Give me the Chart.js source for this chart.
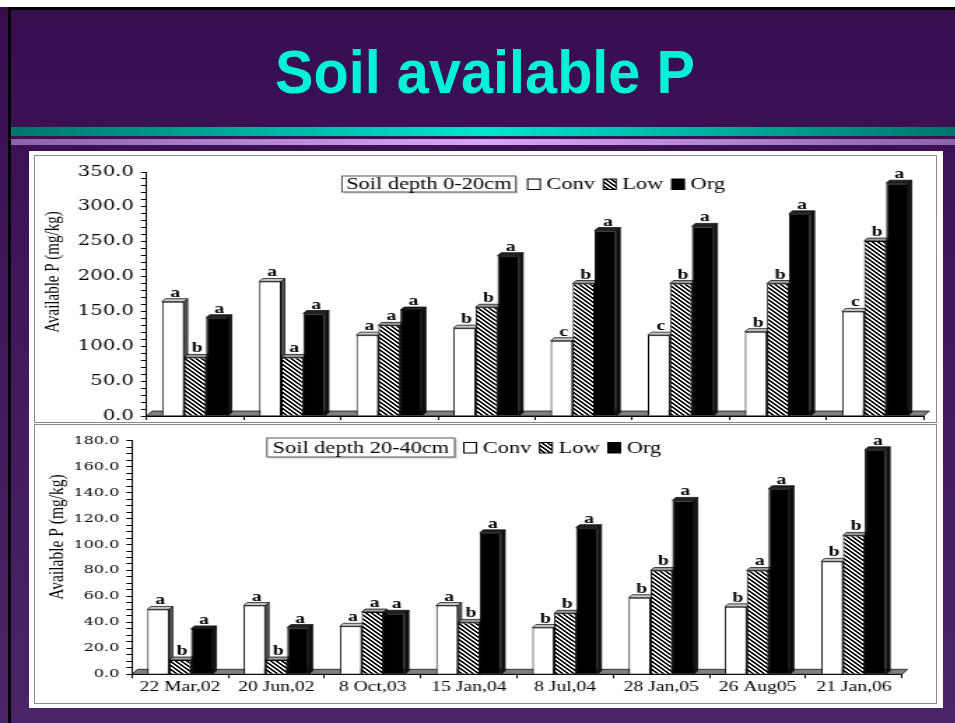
<!DOCTYPE html>
<html>
<head>
<meta charset="utf-8">
<script src="https://cdn.jsdelivr.net/npm/chart.js@4.4.1/dist/chart.umd.min.js"></script>
<style>
  html, body { margin: 0; padding: 0; }
  body { width: 955px; height: 723px; position: relative; overflow: hidden;
         background: linear-gradient(#360d4d, #3f175a 40%, #4b2468); }
  .abs { position: absolute; }
  #whiteTop { left: 0; top: 0; width: 955px; height: 7px; background: #fff; }
  #blackTop { left: 8px; top: 7px; width: 947px; height: 3px; background: #000; }
  #blackLeft { left: 8px; top: 7px; width: 3px; height: 716px; background: #000; }
  #title { left: 0; top: 36px; width: 970px; text-align: center; color: #00f0da;
           font: bold 62px "Liberation Sans", Arial, sans-serif; transform: scaleX(0.93);
           transform-origin: 485px 0; }
  #cyanBand { left: 11px; top: 127px; width: 944px; height: 9px;
              background: linear-gradient(to right, #00756a, #00e6d0 50%, #00756a); }
  #lavBand { left: 11px; top: 139px; width: 944px; height: 6px;
             background: linear-gradient(to right, #8c62a8, #d8a8f8 50%, #8c62a8); }
  #panel { left: 29px; top: 151px; width: 914px; height: 557px; background: #fff; }
  .box { position: absolute; left: 34px; border: 1px solid #8a8a8a; background: #fff; }
  #boxTop { top: 155px; width: 901px; height: 266px; }
  #boxBottom { top: 424px; width: 901px; height: 278px; }
</style>
</head>
<body>
<div id="whiteTop" class="abs"></div>
<div id="blackTop" class="abs"></div>
<div id="blackLeft" class="abs"></div>
<div id="title" class="abs">Soil available P</div>
<div id="cyanBand" class="abs"></div>
<div id="lavBand" class="abs"></div>
<div id="panel" class="abs"></div>
<div id="boxTop" class="box"><canvas id="chartTop" width="644" height="266" style="width:901px;height:266px"></canvas></div>
<div id="boxBottom" class="box"><canvas id="chartBottom" width="644" height="278" style="width:901px;height:278px"></canvas></div>
<script>
const dates = ['22 Mar,02', '20 Jun,02', '8 Oct,03', '15 Jan,04', '8 Jul,04', '28 Jan,05', '26 Aug05', '21 Jan,06'];
const seriesNames = ['Conv', 'Low', 'Org'];

// 0-20cm
const topConv = [164, 193, 116, 126, 108, 116, 121, 150];
const topLow = [84, 84, 130, 156, 190, 190, 190, 251];
const topOrg = [141, 147, 152, 230, 266, 272, 290, 334];
const topConvLetters = ['a', 'a', 'a', 'b', 'c', 'c', 'b', 'c'];
const topLowLetters = ['b', 'a', 'a', 'b', 'b', 'b', 'b', 'b'];
const topOrgLetters = ['a', 'a', 'a', 'a', 'a', 'a', 'a', 'a'];

// 20-40cm
const botConv = [50, 53, 37, 53, 36, 59, 52, 87];
const botLow = [11, 11, 48, 40, 47, 80, 80, 107];
const botOrg = [35, 36, 47, 109, 113, 134, 143, 173];
const botConvLetters = ['a', 'a', 'a', 'a', 'b', 'b', 'b', 'b'];
const botLowLetters = ['b', 'b', 'a', 'b', 'b', 'b', 'a', 'b'];
const botOrgLetters = ['a', 'a', 'a', 'a', 'a', 'a', 'a', 'a'];

const SERIF = '"Liberation Serif", "Times New Roman", serif';
const DX = 2.5, DY = 3;

function makeHatch() {
  const c = document.createElement('canvas');
  c.width = 4; c.height = 4;
  const g = c.getContext('2d');
  const img = g.createImageData(4, 4);
  for (let y = 0; y < 4; y++) {
    for (let x = 0; x < 4; x++) {
      const i = (y * 4 + x) * 4;
      const v = ((x - y + 8) % 4) < 2 ? 0 : 255;
      img.data[i] = v; img.data[i + 1] = v; img.data[i + 2] = v; img.data[i + 3] = 255;
    }
  }
  g.putImageData(img, 0, 0);
  return g.createPattern(c, 'repeat');
}
const hatch = makeHatch();

function poly(ctx, pts) {
  ctx.beginPath();
  ctx.moveTo(pts[0][0], pts[0][1]);
  for (let i = 1; i < pts.length; i++) ctx.lineTo(pts[i][0], pts[i][1]);
  ctx.closePath();
  ctx.fill();
  ctx.stroke();
}

// floor + top/side faces of the columns
const depthPlugin = {
  id: 'depth',
  beforeDatasetsDraw(chart) {
    const { ctx, chartArea } = chart;
    const b = chartArea.bottom;
    ctx.save();
    ctx.strokeStyle = '#000';
    ctx.lineWidth = 0.7;
    ctx.fillStyle = '#808080';
    poly(ctx, [[chartArea.left, b], [chartArea.left + 4, b - 5], [chartArea.right + 4, b - 5], [chartArea.right, b]]);
    chart.data.datasets.forEach((ds, i) => {
      chart.getDatasetMeta(i).data.forEach(bar => {
        const { x, y, width, base } = bar.getProps(['x', 'y', 'width', 'base'], true);
        const l = x - width / 2, r = x + width / 2;
        ctx.fillStyle = ds.sideColor;
        poly(ctx, [[r, y], [r + DX, y - DY], [r + DX, base - DY], [r, base]]);
        ctx.fillStyle = ds.topColor;
        poly(ctx, [[l, y], [l + DX, y - DY], [r + DX, y - DY], [r, y]]);
      });
    });
    ctx.restore();
  }
};

const letterPlugin = {
  id: 'letters',
  afterDatasetsDraw(chart) {
    const ctx = chart.ctx;
    ctx.save();
    ctx.font = 'bold 14px ' + SERIF;
    ctx.fillStyle = '#000';
    ctx.textAlign = 'center';
    ctx.textBaseline = 'alphabetic';
    chart.data.datasets.forEach((ds, i) => {
      chart.getDatasetMeta(i).data.forEach((bar, j) => {
        ctx.fillText(ds.letters[j], bar.x + DX * 0.6, bar.y - DY - 2);
      });
    });
    ctx.restore();
  }
};

// y title drawn by hand, it sits above the middle of the axis in the original
const yTitlePlugin = {
  id: 'yTitle',
  afterDraw(chart, args, opts) {
    const ctx = chart.ctx;
    ctx.save();
    ctx.translate(opts.x, opts.y);
    ctx.rotate(-Math.PI / 2);
    ctx.font = opts.size + 'px ' + SERIF;
    ctx.fillStyle = '#000';
    ctx.textAlign = 'center';
    ctx.textBaseline = 'middle';
    ctx.fillText(opts.text, 0, 0);
    ctx.restore();
  }
};

const boxLegendPlugin = {
  id: 'boxLegend',
  afterDraw(chart, args, opts) {
    const ctx = chart.ctx;
    ctx.save();
    ctx.font = '16px ' + SERIF;
    ctx.textBaseline = 'middle';
    const tw = ctx.measureText(opts.text).width;
    const w = tw + opts.pad * 2;
    const cy = opts.y + opts.h / 2;
    ctx.fillStyle = '#d0d0d0';
    ctx.fillRect(opts.x + 1.5, opts.y + 1.5, w, opts.h);
    ctx.fillStyle = '#fff';
    ctx.fillRect(opts.x, opts.y, w, opts.h);
    ctx.strokeStyle = '#555';
    ctx.lineWidth = 1;
    ctx.strokeRect(opts.x, opts.y, w, opts.h);
    ctx.fillStyle = '#000';
    ctx.fillText(opts.text, opts.x + opts.pad, cy + 1);
    let x = opts.x + w + opts.gap;
    chart.data.datasets.forEach(ds => {
      ctx.fillStyle = ds.backgroundColor;
      ctx.strokeStyle = '#000';
      ctx.fillRect(x, cy - 5, 9, 10.5);
      ctx.strokeRect(x, cy - 5, 9, 10.5);
      x += 9 + 4.5;
      ctx.fillStyle = '#000';
      ctx.fillText(ds.label, x, cy + 1);
      x += ctx.measureText(ds.label).width + 6;
    });
    ctx.restore();
  }
};

function makeDatasets(conv, low, org, lc, ll, lo) {
  return [
    { label: seriesNames[0], data: conv, letters: lc, backgroundColor: '#fff', borderColor: '#000',
      borderWidth: 1, topColor: '#c4c4c4', sideColor: '#5a5a5a' },
    { label: seriesNames[1], data: low, letters: ll, backgroundColor: hatch, borderColor: '#000',
      borderWidth: 1, topColor: '#9a9a9a', sideColor: '#3a3a3a' },
    { label: seriesNames[2], data: org, letters: lo, backgroundColor: '#000', borderColor: '#000',
      borderWidth: 1, topColor: '#222', sideColor: '#111' }
  ];
}

function makeChart(id, cfg) {
  return new Chart(document.getElementById(id), {
    type: 'bar',
    data: { labels: dates, datasets: cfg.datasets },
    options: {
      responsive: false,
      devicePixelRatio: 1,
      animation: false,
      events: [],
      layout: { padding: { top: cfg.padTop, right: cfg.padRight, left: 0, bottom: 0 } },
      datasets: { bar: { categoryPercentage: 0.68, barPercentage: 1 } },
      scales: {
        x: {
          afterFit: s => { s.height = cfg.xHeight; s.paddingLeft = 0; s.paddingRight = 0; },
          grid: { drawOnChartArea: false, tickLength: 4, color: '#000', offset: true },
          border: { color: '#000', width: 1 },
          ticks: { display: cfg.showDates, color: '#000', padding: 1, maxRotation: 0, autoSkip: false,
                   font: { family: SERIF, size: 14 } }
        },
        y: {
          min: 0,
          max: cfg.max,
          afterFit: s => { s.width = cfg.yWidth; s.paddingTop = 0; s.paddingBottom = 0; },
          grid: { drawOnChartArea: false, tickLength: 4, color: '#000' },
          border: { color: '#000', width: 1 },
          ticks: {
            stepSize: cfg.step,
            maxTicksLimit: 100,
            autoSkip: false,
            padding: 5,
            color: '#000',
            font: { family: '"DejaVu Serif", serif', size: cfg.tickSize },
            callback: v => (Math.round(v) % cfg.labelEvery === 0 ? v.toFixed(1) : '')
          }
        }
      },
      plugins: {
        legend: { display: false },
        tooltip: { enabled: false },
        boxLegend: cfg.legend,
        yTitle: cfg.yTitle
      }
    },
    plugins: [depthPlugin, letterPlugin, yTitlePlugin, boxLegendPlugin]
  });
}

makeChart('chartTop', {
  datasets: makeDatasets(topConv, topLow, topOrg, topConvLetters, topLowLetters, topOrgLetters),
  max: 350, step: 10, labelEvery: 50, tickSize: 14,
  padTop: 16, padRight: 8.8, xHeight: 6, yWidth: 79.7, showDates: false,
  legend: { text: 'Soil depth 0-20cm', x: 219.4, y: 20, h: 16, pad: 3, gap: 8.5 },
  yTitle: { text: 'Available P (mg/kg)', x: 13.2, y: 116, size: 15 }
});

makeChart('chartBottom', {
  datasets: makeDatasets(botConv, botLow, botOrg, botConvLetters, botLowLetters, botOrgLetters),
  max: 180, step: 5, labelEvery: 20, tickSize: 11.5,
  padTop: 15.7, padRight: 24.3, xHeight: 28.7, yWidth: 69.3, showDates: true,
  legend: { text: 'Soil depth 20-40cm', x: 165.8, y: 13, h: 19, pad: 4, gap: 6.5 },
  yTitle: { text: 'Available P (mg/kg)', x: 16.4, y: 112, size: 15.5 }
});
</script>
</body>
</html>
